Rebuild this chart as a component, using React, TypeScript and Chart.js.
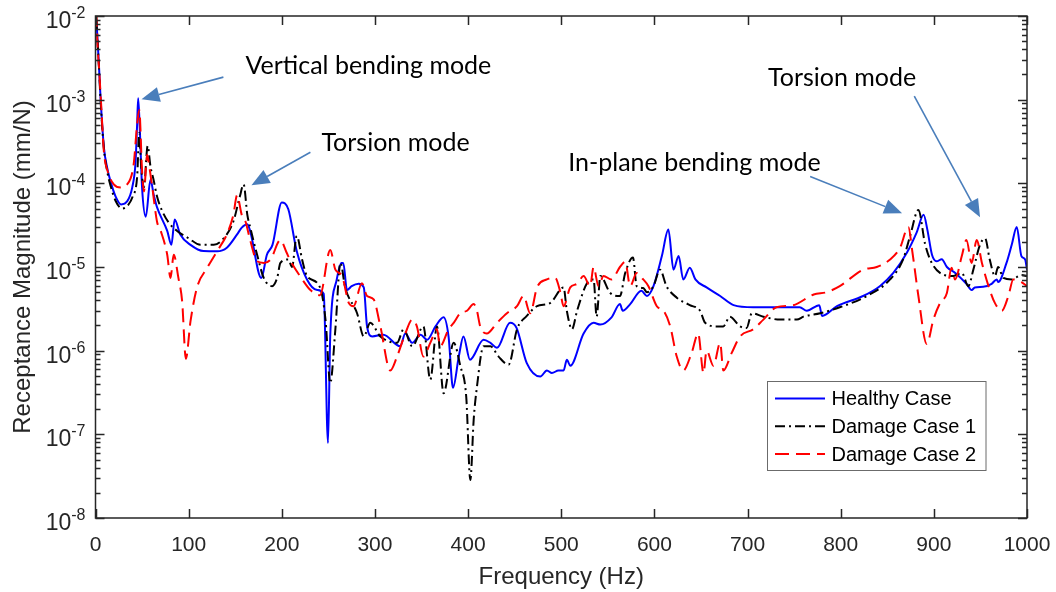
import React, { useEffect, useRef } from "react";
import { Chart, registerables } from "chart.js";

Chart.register(...registerables);

// ---------------- data ----------------
const seriesLabels = ["Healthy Case", "Damage Case 1", "Damage Case 2"];

const healthyFreq = [
  1, 3.6, 5.4, 9, 12.5, 16, 21.5, 27.5, 34, 39.4, 43, 44.7, 45.8, 47.5, 50, 54, 59, 62.6, 66, 77, 81.5, 85, 91,
  102, 116, 130.6, 141, 152, 157, 163, 166, 178, 184, 190, 200, 207, 216, 227, 238, 245, 249.6, 252, 259, 264,
  266, 270, 275, 282.5, 288, 291.5, 297, 309, 327, 332.6, 340, 349, 356, 365, 373.7, 379, 383.8, 390, 395, 402,
  416.6, 424, 431, 445, 452, 463, 477.5, 484.6, 490, 497, 502.5, 506, 509.7, 524, 534.7, 542, 554, 563, 566, 574,
  586, 592, 599, 608, 615, 620.5, 626, 631, 638, 644, 656, 670.6, 685, 706, 724, 756, 763.6, 777, 780, 796, 824,
  842, 856.5, 871, 881.6, 889, 893, 898, 903, 908.5, 914, 923, 935, 940.6, 944, 953, 962, 967.5, 969, 978, 983.6,
  989, 994, 998, 1000,
];
const healthyMag = [
  9e-3, 2.7e-3, 1.06e-3, 2.7e-4, 1.54e-4, 1.07e-4, 7.0e-5, 5.6e-5, 6.1e-5, 8.9e-5, 1.8e-4, 5.1e-4, 1.04e-3, 4.6e-4,
  8.9e-5, 4.0e-5, 1.1e-4, 7.2e-5, 5.2e-5, 2.7e-5, 1.84e-5, 3.7e-5, 2.45e-5,
  1.84e-5, 1.55e-5, 1.54e-5, 1.7e-5, 2.45e-5, 2.96e-5, 3.25e-5, 2.7e-5, 7.4e-6, 1.4e-5, 1.84e-5, 5.9e-5, 4.9e-5,
  1.55e-5, 7.1e-6, 5.3e-6, 4.8e-6, 7.9e-8, 1.5e-6, 7.1e-6, 1.12e-5,
  1.12e-5, 5.3e-6, 5.9e-6, 6.3e-6, 5.7e-6, 1.95e-6, 1.48e-6, 1.55e-6, 1.13e-6, 1.6e-6, 1.24e-6, 1.55e-6, 1.35e-6,
  1.95e-6, 2.5e-6, 1.48e-6, 3.6e-7, 8.5e-7, 1.48e-6, 7.8e-7,
  1.35e-6, 1.24e-6, 1.08e-6, 2.15e-6, 1.87e-6, 7.1e-7, 4.9e-7, 5.8e-7, 5.4e-7, 5.8e-7, 5.8e-7, 7.8e-7, 6.6e-7,
  1.6e-6, 2.15e-6, 2.05e-6, 2.5e-6, 3.6e-6, 3.0e-6, 3.6e-6,
  5.2e-6, 4.5e-6, 5.9e-6, 1.35e-5, 2.8e-5, 9.3e-6, 1.35e-5, 7.1e-6, 9.8e-6, 7.1e-6, 5.7e-6, 4.5e-6, 3.5e-6, 3.3e-6,
  3.3e-6, 3.3e-6, 3.0e-6, 3.5e-6, 2.6e-6, 3.4e-6, 4.5e-6,
  5.9e-6, 8.5e-6, 1.48e-5, 2.6e-5, 4.2e-5, 2.8e-5, 1.4e-5, 1.17e-5, 1.24e-5, 1.0e-5, 8.5e-6, 6.3e-6, 5.3e-6, 5.7e-6,
  5.8e-6, 6.3e-6, 7.1e-6, 6.6e-6, 1.12e-5, 1.84e-5,
  3.0e-5, 1.35e-5, 1.23e-5, 9.3e-6,
];

const damage1Freq = [
  1, 3.6, 5.4, 9, 12.5, 16, 21.5, 28.6, 35, 40, 44.7, 47, 49, 52, 56, 59, 62.6, 66, 71.5, 78.6, 87.6, 100, 112.7,
  127, 137.6, 148, 155, 159, 163, 166, 173.5, 180.6, 189.6, 195, 198.5, 207, 211, 216, 222, 227, 241, 247, 252,
  257.5, 263, 268, 280.8, 288, 295, 305.8, 323.7, 330.8, 340, 352, 359.4, 366.6, 373.7, 384.5, 391.6, 398, 402.4,
  406, 409.5, 416.6, 424, 432.7, 443.5, 452.5, 463, 474, 488, 502.5, 506, 511.5, 517, 527.6, 534.7, 538, 542,
  552.6, 563, 568.7, 577, 581, 588, 592, 599, 606, 613, 624, 638, 649, 654.5, 667, 674, 681, 692, 699, 704.6, 717,
  735, 753, 760, 778, 799, 828, 853, 867, 874.5, 883.4, 890.5, 896, 906.6, 921, 930, 937, 942.4, 949.5, 955, 960,
  965.6, 969, 974.6, 983.6, 994, 1000,
];
const damage1Mag = [
  9e-3, 2.6e-3, 1.0e-3, 2.6e-4, 1.4e-4, 9.5e-5, 6.2e-5, 5.0e-5, 5.5e-5, 7.0e-5, 1.2e-4, 4.0e-4, 1.6e-4, 9.0e-5,
  2.8e-4, 1.6e-4, 1.07e-4, 7.0e-5, 4.7e-5, 3.4e-5, 2.7e-5, 2.2e-5, 1.84e-5,
  1.84e-5, 2.2e-5, 3.5e-5, 7.0e-5, 9.7e-5, 4.2e-5, 3.0e-5, 1.4e-5, 7.4e-6, 5.9e-6, 7.4e-6, 1.12e-5, 1.23e-5,
  1.0e-5, 2.35e-5, 1.2e-5, 7.8e-6, 5.7e-6, 2.3e-6, 4.1e-7,
  1.8e-6, 1.12e-5, 5.7e-6, 2.8e-6, 1.48e-6, 2.15e-6, 1.48e-6, 1.24e-6, 1.8e-6, 1.13e-6, 1.95e-6, 4.5e-7, 1.95e-6,
  3.1e-7, 1.24e-6, 6.6e-7, 2.8e-7, 2.85e-8,
  1.5e-7, 3.7e-7, 1.13e-6, 1.13e-6, 8.5e-7, 6.8e-7, 1.8e-6, 2.6e-6, 3.4e-6, 3.7e-6, 5.7e-6, 3.0e-6, 1.8e-6, 3.0e-6,
  6.4e-6, 7.1e-6, 2.55e-6, 7.8e-6,
  4.9e-6, 4.5e-6, 8.5e-6, 1.3e-5, 5.9e-6, 5.6e-6, 5.0e-6, 5.9e-6, 9.3e-6, 5.9e-6, 4.3e-6, 3.5e-6, 3.0e-6, 2.15e-6,
  1.95e-6, 1.95e-6, 2.55e-6, 1.95e-6, 1.87e-6, 2.8e-6, 2.55e-6,
  2.35e-6, 2.35e-6, 2.55e-6, 2.8e-6, 3.3e-6, 4.5e-6, 7.1e-6, 1.23e-5, 2.35e-5, 4.8e-5, 1.9e-5, 1.23e-5, 8.5e-6,
  7.8e-6, 8.5e-6, 5.9e-6, 9.3e-6, 1.84e-5, 2.2e-5, 1.23e-5,
  7.8e-6, 1.0e-5, 7.4e-6, 7.1e-6, 8.0e-6, 7.8e-6,
];

const damage2Freq = [
  1, 2, 4, 6, 9, 13, 19.6, 27, 34, 41, 44.7, 47, 50, 52, 55.5, 57, 61, 66, 70, 77, 80.5, 84, 89, 93, 97, 102, 109,
  120, 130.6, 141, 148, 152, 157, 161, 166, 173.5, 180.6, 188, 198.5, 205, 209, 222, 230.7, 241, 252, 257.5, 264.7,
  272, 277, 286, 291.5, 298.6, 305.8, 316.5, 323.7, 332.6, 340, 345, 352, 359.4, 366.6, 370, 379, 384.5, 391.6,
  398.8, 406, 409.5, 413, 420, 431, 441.7, 452.5, 459.5, 466.7, 474, 484.6, 493.6, 499, 502.5, 509.7, 517, 524, 531,
  534.7, 540, 545.4, 554, 563, 568.7, 574, 581, 588, 593.6, 602.6, 609.8, 617, 624, 631, 640, 647, 652.7, 656,
  663.4, 670.6, 674, 683, 692, 706, 717, 731, 749, 771, 785, 799, 824, 838.7, 853, 863.7, 872.6, 877, 883.4, 892.4,
  899.5, 906.6, 914, 919, 922.7, 930, 935, 940.6, 946, 951.6, 958.7, 965.6, 973, 980, 985.3, 994, 1000,
];
const damage2Mag = [
  1.1e-2, 5e-3, 2.2e-3, 9e-4, 2.4e-4, 1.4e-4, 9.7e-5, 8.9e-5, 9.7e-5, 1.7e-4, 5.1e-4, 7.5e-4, 1.4e-4, 8.0e-5,
  2.2e-4, 1.8e-4, 8.9e-5, 3.5e-5, 2.7e-5, 1.4e-5, 7.4e-6, 1.4e-5, 7.4e-6, 3.9e-6, 8.0e-7, 2.25e-6, 5.7e-6,
  9.8e-6, 1.55e-5, 2.45e-5, 4.2e-5, 7.2e-5, 4.2e-5, 3.5e-5, 2.1e-5, 1.17e-5, 1.12e-5, 1.23e-5, 2.1e-5, 1.5e-5,
  1.2e-5, 7.1e-6, 5.3e-6, 4.6e-6, 1.6e-5, 9.3e-6, 7.8e-6,
  3.7e-6, 3.4e-6, 6.4e-6, 4.5e-6, 4.1e-6, 1.95e-6, 5.8e-7, 8.5e-7, 1.6e-6, 2.35e-6, 1.95e-6, 8.5e-7, 1.24e-6,
  1.8e-6, 1.13e-6, 1.8e-6, 2.15e-6, 2.8e-6,
  3.0e-6, 3.6e-6, 3.0e-6, 1.95e-6, 1.6e-6, 2.15e-6, 2.8e-6, 3.4e-6, 4.5e-6, 2.8e-6, 5.7e-6, 7.1e-6, 7.4e-6, 5.0e-6,
  3.4e-6, 5.7e-6, 6.3e-6, 7.8e-6, 5.9e-6,
  1.0e-5, 5.9e-6, 7.8e-6, 7.1e-6, 1.0e-5, 1.15e-5, 5.9e-6, 8.5e-6, 7.1e-6, 5.9e-6, 3.4e-6, 3.0e-6, 1.95e-6, 8.5e-7,
  5.8e-7, 9.4e-7, 1.6e-6, 5.4e-7, 1.0e-6,
  6.6e-7, 1.24e-6, 5.8e-7, 9.4e-7, 1.48e-6, 1.8e-6, 2.35e-6, 3.3e-6, 3.5e-6, 4.7e-6, 5.0e-6, 5.9e-6, 9.3e-6, 1.0e-5,
  1.23e-5, 1.7e-5, 3.0e-5, 1.5e-5, 4.5e-6, 1.2e-6,
  2.35e-6, 3.7e-6, 4.9e-6, 9.8e-6, 7.1e-6, 1.35e-5, 2.1e-5, 1.12e-5, 2.1e-5, 1.12e-5, 5.9e-6, 3.7e-6, 3.0e-6,
  4.5e-6, 7.1e-6, 6.6e-6, 5.9e-6,
];

const xTicks = [0, 100, 200, 300, 400, 500, 600, 700, 800, 900, 1000];
const yDecades = [-8, -7, -6, -5, -4, -3, -2];

const annotationTexts = ["Vertical bending mode", "Torsion mode", "In-plane bending mode", "Torsion mode"];
// anchors in data coordinates: [frequency, magnitude]
const annotationTextAt = [
  [161, 2.02e-3],
  [242.5, 2.42e-4],
  [507.5, 1.39e-4],
  [722, 1.45e-3],
];
const arrowTails = [
  [137.3, 1.86e-3],
  [230.7, 2.35e-4],
  [767.2, 1.21e-4],
  [879.0, 1.1e-3],
];
const arrowTips = [
  [49.4, 1.01e-3],
  [167.4, 9.46e-5],
  [865.9, 4.38e-5],
  [949.6, 3.92e-5],
];

// ---------------- styling ----------------
const AXIS_FONT = "'Liberation Sans', Arial, sans-serif";
const NOTE_FONT = "Lato, 'Open Sans', sans-serif";
const AXIS_COLOR = "#262626";
const ARROW_COLOR = "#4a7ebb";
const seriesColors = ["#0000ff", "#000000", "#ff0000"];
const seriesDashes: number[][] = [[], [10, 4, 2, 4], [14, 7]];

function toPoints(fs: number[], ms: number[]) {
  return fs.map((f, i) => ({ x: f, y: ms[i] }));
}

const decorPlugin = {
  id: "decor",
  afterDatasetsDraw(chart: any) {
    const { ctx, chartArea, scales } = chart;
    const { left, right, top, bottom } = chartArea;
    const x = scales.x;
    const y = scales.y;
    ctx.save();
    ctx.strokeStyle = AXIS_COLOR;
    ctx.lineWidth = 1.5;
    ctx.beginPath();
    ctx.rect(left, top, right - left, bottom - top);
    ctx.stroke();
    ctx.beginPath();
    for (const v of xTicks) {
      const px = Math.round(x.getPixelForValue(v)) + 0.5;
      ctx.moveTo(px, bottom);
      ctx.lineTo(px, bottom - 9);
      ctx.moveTo(px, top);
      ctx.lineTo(px, top + 9);
    }
    for (const e of yDecades) {
      for (let m = 1; m <= 9; m++) {
        if (e === -2 && m > 1) break;
        const v = m * Math.pow(10, e);
        const py = Math.round(y.getPixelForValue(v)) + 0.5;
        const len = m === 1 ? 9 : 5;
        ctx.moveTo(left, py);
        ctx.lineTo(left + len, py);
        ctx.moveTo(right, py);
        ctx.lineTo(right - len, py);
      }
    }
    ctx.stroke();

    // y tick labels 10^e
    ctx.fillStyle = AXIS_COLOR;
    ctx.textBaseline = "alphabetic";
    ctx.textAlign = "left";
    for (const e of yDecades) {
      const py = y.getPixelForValue(Math.pow(10, e));
      ctx.font = `23px ${AXIS_FONT}`;
      const baseW = ctx.measureText("10").width;
      ctx.font = `16px ${AXIS_FONT}`;
      const sup = String(e);
      const supW = ctx.measureText(sup).width;
      const x0 = left - 10 - supW - baseW;
      ctx.font = `23px ${AXIS_FONT}`;
      ctx.fillText("10", x0, py + 12);
      ctx.font = `16px ${AXIS_FONT}`;
      ctx.fillText(sup, x0 + baseW, py + 2);
    }
    ctx.restore();
  },
  afterDraw(chart: any) {
    const { ctx, scales } = chart;
    const x = scales.x;
    const y = scales.y;
    ctx.save();
    // annotations
    ctx.fillStyle = "#000";
    ctx.font = `25px ${NOTE_FONT}`;
    ctx.textAlign = "left";
    ctx.textBaseline = "alphabetic";
    annotationTexts.forEach((t, i) => {
      const [f, m] = annotationTextAt[i];
      ctx.fillText(t, x.getPixelForValue(f), y.getPixelForValue(m));
    });
    ctx.strokeStyle = ARROW_COLOR;
    ctx.fillStyle = ARROW_COLOR;
    ctx.lineWidth = 1.6;
    arrowTips.forEach((tip, i) => {
      const tx = x.getPixelForValue(arrowTails[i][0]);
      const ty = y.getPixelForValue(arrowTails[i][1]);
      const hx = x.getPixelForValue(tip[0]);
      const hy = y.getPixelForValue(tip[1]);
      const ang = Math.atan2(hy - ty, hx - tx);
      const headLen = 18;
      const headHalf = 7.5;
      const bx = hx - headLen * Math.cos(ang);
      const by = hy - headLen * Math.sin(ang);
      ctx.beginPath();
      ctx.moveTo(tx, ty);
      ctx.lineTo(bx, by);
      ctx.stroke();
      ctx.beginPath();
      ctx.moveTo(hx, hy);
      ctx.lineTo(bx + headHalf * Math.sin(ang), by - headHalf * Math.cos(ang));
      ctx.lineTo(bx - headHalf * Math.sin(ang), by + headHalf * Math.cos(ang));
      ctx.closePath();
      ctx.fill();
    });

    // legend
    const lx = 767.5;
    const ly = 381.5;
    const lw = 218.5;
    const lh = 89;
    ctx.fillStyle = "#fff";
    ctx.fillRect(lx, ly, lw, lh);
    ctx.strokeStyle = "#6b6b6b";
    ctx.lineWidth = 1;
    ctx.setLineDash([]);
    ctx.strokeRect(lx, ly, lw, lh);
    ctx.font = `20px ${AXIS_FONT}`;
    ctx.textBaseline = "middle";
    seriesLabels.forEach((lab, i) => {
      const yy = ly + 17 + i * 27.8;
      ctx.strokeStyle = seriesColors[i];
      ctx.lineWidth = 2;
      ctx.setLineDash(seriesDashes[i]);
      ctx.beginPath();
      ctx.moveTo(lx + 7.5, yy);
      ctx.lineTo(lx + 57.5, yy);
      ctx.stroke();
      ctx.setLineDash([]);
      ctx.fillStyle = "#000";
      ctx.fillText(lab, lx + 64, yy + 1);
    });
    ctx.restore();
  },
};

export default function App() {
  const canvasRef = useRef<HTMLCanvasElement | null>(null);

  useEffect(() => {
    const canvas = canvasRef.current;
    if (!canvas) return;
    const seriesData = [
      toPoints(healthyFreq, healthyMag),
      toPoints(damage1Freq, damage1Mag),
      toPoints(damage2Freq, damage2Mag),
    ];
    const chart = new Chart(canvas, {
      type: "line",
      data: {
        datasets: seriesLabels.map((label, i) => ({
          label,
          data: seriesData[i],
          borderColor: seriesColors[i],
          backgroundColor: seriesColors[i],
          borderWidth: 2,
          borderDash: seriesDashes[i],
          pointRadius: 0,
          fill: false,
          cubicInterpolationMode: "monotone" as const,
          order: 3 - i,
        })),
      },
      plugins: [decorPlugin],
      options: {
        responsive: false,
        animation: false,
        devicePixelRatio: 1,
        layout: { padding: { top: 16, right: 29, left: 0, bottom: 0 } },
        plugins: {
          legend: { display: false },
          tooltip: { enabled: false },
        },
        scales: {
          x: {
            type: "linear",
            min: 0,
            max: 1000,
            grid: { display: false },
            border: { display: false },
            afterFit: (s: any) => {
              s.height = 74;
              s.paddingLeft = 0;
              s.paddingRight = 0;
            },
            ticks: {
              stepSize: 100,
              color: AXIS_COLOR,
              padding: 7,
              maxRotation: 0,
              font: { family: AXIS_FONT, size: 21 },
              callback: (v: any) => String(v),
            },
            title: {
              display: true,
              text: "Frequency (Hz)",
              color: AXIS_COLOR,
              font: { family: AXIS_FONT, size: 24 },
              padding: { top: 0, bottom: 0 },
            },
          },
          y: {
            type: "logarithmic",
            min: 1e-8,
            max: 1e-2,
            grid: { display: false },
            border: { display: false },
            afterFit: (s: any) => {
              s.width = 95.5;
              s.paddingTop = 0;
              s.paddingBottom = 0;
            },
            ticks: { display: false },
            title: {
              display: true,
              text: "Receptance Magnitude (mm/N)",
              color: AXIS_COLOR,
              font: { family: AXIS_FONT, size: 24 },
              padding: { top: 9, bottom: 0 },
            },
          },
        },
      },
    });
    return () => chart.destroy();
  }, []);

  return (
    <div style={{ position: "absolute", left: 0, top: 0, width: 1056, height: 592, background: "#fff" }}>
      <canvas ref={canvasRef} width={1056} height={592} />
    </div>
  );
}
